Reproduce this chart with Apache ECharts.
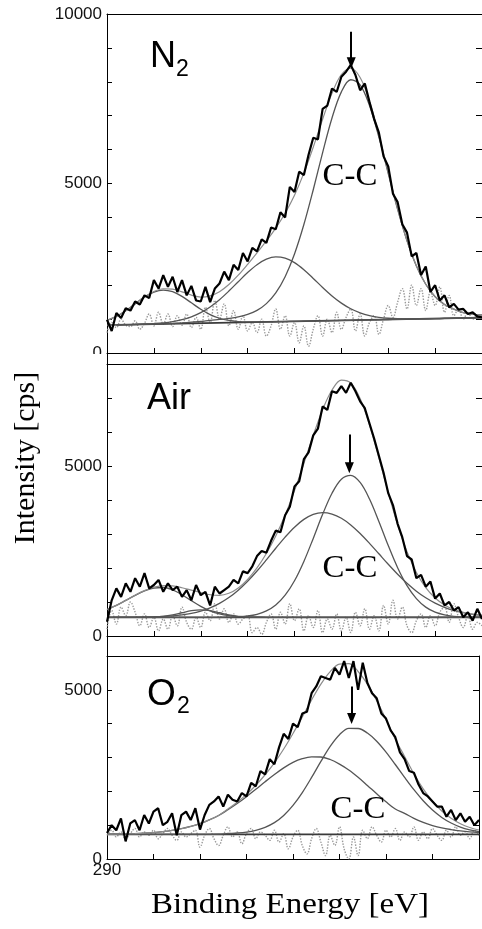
<!DOCTYPE html>
<html>
<head>
<meta charset="utf-8">
<script src="https://cdn.jsdelivr.net/npm/echarts/dist/echarts.min.js"></script>
<style>
html,body{margin:0;padding:0;background:#fff;}
#chart{width:482px;height:929px;}
</style>
</head>
<body>
<div id="chart"></div>
<script>
// Binding energies (eV)
const E_FIT = [290.0,289.8,289.6,289.4,289.2,289.0,288.8,288.6,288.4,288.2,288.0,287.8,287.6,287.4,287.2,287.0,286.8,286.6,286.4,286.2,286.0,285.8,285.6,285.4,285.2,285.0,284.8,284.6,284.4,284.2,284.0,283.8,283.6,283.4,283.2,283.0,282.8,282.6,282.4,282.2,282.0];
const E_RAW = [290.0,289.9,289.8,289.7,289.6,289.5,289.4,289.3,289.2,289.1,289.0,288.9,288.8,288.7,288.6,288.5,288.4,288.3,288.2,288.1,288.0,287.9,287.8,287.7,287.6,287.5,287.4,287.3,287.2,287.1,287.0,286.9,286.8,286.7,286.6,286.5,286.4,286.3,286.2,286.1,286.0,285.9,285.8,285.7,285.6,285.5,285.4,285.3,285.2,285.1,285.0,284.9,284.8,284.7,284.6,284.5,284.4,284.3,284.2,284.1,284.0,283.9,283.8,283.7,283.6,283.5,283.4,283.3,283.2,283.1,283.0,282.9,282.8,282.7,282.6,282.5,282.4,282.3,282.2,282.1,282.0];

// ---- N2 panel ----
const N2_RAW = [980,650,1180,1030,1320,1250,1520,1430,1700,1620,2150,1900,2300,1950,2250,1800,2150,1700,1980,1550,1520,1950,1500,1900,2050,2400,2150,2600,2450,2950,2700,3100,3000,3350,3250,3700,3650,4150,4000,4900,4750,5350,5250,5850,6350,6300,7200,7300,7800,7700,8150,8300,8500,8200,7750,7950,7400,6900,6500,5800,5500,4700,4450,3800,3550,2850,2950,2300,2550,1800,2000,1550,1700,1350,1450,1280,1300,1150,1200,1080,1050];
const N2_RESID = [600,900,750,1000,820,780,950,700,880,1150,800,1200,850,1150,780,1100,820,1150,750,1050,700,1350,900,1550,1000,1450,800,1250,700,1100,650,900,600,1000,500,800,1300,700,1100,500,900,300,800,200,700,1100,500,1000,600,1200,700,1050,1300,650,1150,500,900,1100,550,1000,1400,1050,1500,1900,1300,2000,1400,1900,1250,1800,1400,1950,1200,1700,1100,1300,1000,1200,1000,1100,1050];
const N2_ENV = [960,1079,1247,1451,1656,1815,1895,1882,1803,1709,1651,1687,1808,2019,2295,2615,2954,3307,3686,4123,4653,5306,6071,6895,7662,8215,8400,8126,7427,6439,5331,4254,3318,2573,2027,1661,1431,1295,1190,1145,1121];
const N2_PK1 = [960,1079,1247,1448,1648,1798,1857,1809,1669,1480,1290,1133,1025,961,928,917,915,917,922,927,933,938,944,949,954,960,965,971,976,981,987,992,998,1003,1008,1014,1019,1025,1030,1035,1041];
const N2_PK2 = [825,830,836,844,855,869,890,926,982,1067,1190,1358,1573,1827,2102,2373,2605,2768,2835,2799,2665,2455,2200,1933,1684,1472,1305,1185,1103,1052,1025,1011,1007,1007,1008,1014,1019,1025,1030,1035,1041];
const N2_CC = [825,830,836,841,847,852,862,873,888,908,929,964,990,1021,1065,1137,1256,1456,1773,2251,2921,3789,4815,5911,6932,7703,8060,7912,7300,6368,5293,4235,3309,2569,2027,1661,1431,1295,1190,1145,1121];
const N2_BASE_E = [289.8, 282.0];
const N2_BASE = [830, 1041];

// ---- Air panel ----
const AIR_RAW = [420,1050,1400,1150,1550,1300,1700,1450,1850,1400,1500,1650,1300,1550,1350,1450,1150,1350,1050,1500,1200,1300,900,1450,1250,1350,1450,1650,1550,1900,1850,2050,2350,2500,2450,2800,3100,3050,3550,3800,4400,4550,5200,5400,5900,6100,6750,6650,7200,7150,7350,7150,7450,7200,6900,6700,6250,5800,5300,4800,4200,3850,3300,2900,2350,2250,1700,1800,1450,1600,1100,1250,900,1000,750,850,550,700,450,800,500];
const AIR_RESID = [200,750,350,850,600,1000,700,300,650,250,550,150,500,200,600,300,850,400,200,550,250,700,450,950,500,800,400,650,350,500,600,100,250,50,400,650,200,700,350,950,450,800,150,600,250,750,100,500,200,650,150,550,100,700,300,800,200,600,150,900,350,1050,500,850,300,100,450,650,250,600,300,700,850,400,950,550,250,600,200,400,300];
const AIR_ENV = [778,901,1048,1200,1336,1434,1482,1472,1420,1350,1277,1213,1194,1256,1414,1667,2005,2427,2943,3559,4276,5075,5900,6658,7236,7526,7444,6982,6206,5238,4220,3275,2482,1868,1422,1117,915,782,697,643,608];
const AIR_PK1 = [778,900,1046,1196,1327,1410,1427,1357,1214,1039,873,740,650,597,570,558,553,550,550,550,550,550,550,550,550,550,550,550,550,550,550,550,550,550,550,550,550,550,550,550,550];
const AIR_PK2 = [550,550,550,550,552,560,580,622,684,744,770,744,684,622,580,560,552,550,550,550,550,550,550,550,550,550,550,550,550,550,550,550,550,550,550,550,550,550,550,550,550];
const AIR_PKW = [550,551,552,554,557,564,575,593,622,667,734,829,960,1131,1348,1610,1911,2240,2581,2909,3201,3431,3579,3630,3587,3464,3268,3016,2726,2418,2109,1816,1550,1318,1123,967,845,752,685,638,606];
const AIR_CC = [550,550,550,550,550,550,550,550,550,550,550,550,550,556,566,589,639,737,912,1200,1625,2194,2871,3578,4199,4612,4726,4516,4030,3370,2661,2009,1482,1100,849,700,620,580,562,555,552];
const AIR_BASE_E = [290.0, 282.0];
const AIR_BASE = [550, 550];

// ---- O2 panel ----
const O2_RAW = [770,1000,850,1200,520,1050,1150,850,1300,1050,1400,1500,1000,1100,1350,700,1300,1400,1150,1500,870,1300,1600,1700,1850,1550,1900,1750,1700,1950,1850,2250,2150,2600,2500,2950,2800,3300,3700,3550,4000,3900,4300,4350,4900,5100,5400,5350,5300,5650,5450,5850,5350,5850,5000,5800,5200,4900,4750,4300,4150,3800,3600,3150,2950,2600,2550,2200,1950,1850,1700,1550,1550,1250,1450,1150,1350,1100,1250,1000,1150];
const O2_RESID = [700,850,650,800,600,750,900,650,800,700,850,600,750,900,700,550,800,650,750,850,350,700,900,600,400,700,950,650,800,450,750,900,600,800,700,550,850,500,750,300,650,850,400,150,600,900,500,100,700,400,950,300,0,650,100,850,600,950,700,500,850,650,900,550,800,650,950,550,800,600,900,700,550,850,650,950,700,800,600,850,700];
const O2_ENV = [735,738,743,751,763,782,808,845,895,961,1047,1155,1288,1480,1680,1910,2180,2490,2840,3250,3710,4200,4700,5170,5540,5760,5775,5542,5168,4681,4123,3540,3032,2518,2072,1708,1419,1203,1044,932,858];
const O2_PKW = [735,738,743,751,763,782,808,845,895,961,1047,1155,1286,1458,1641,1843,2061,2283,2497,2694,2856,2966,3020,3015,2941,2805,2631,2415,2175,1929,1692,1477,1350,1200,1080,990,920,870,830,800,780];
const O2_CC = [730,730,730,730,730,730,730,730,730,730,730,730,732,753,769,797,849,937,1074,1287,1584,1964,2411,2886,3329,3673,3863,3857,3723,3482,3161,2793,2412,2048,1722,1448,1229,1063,944,862,808];
const O2_BASE_E = [290.0, 282.0];
const O2_BASE = [730, 730];

// Axis setup
const Y_MAX = [10000, 8000, 6000];
const Y_LABELS = [[0, 5000, 10000], [0, 5000], [0, 5000]];
const X_LABELS = [290];

// Arrow annotations [energy, start intensity, tip intensity]
const ARROW_E = [284.79, 284.83, 284.74];
const ARROW_TOP = [9480, 5930, 5100];
const ARROW_TIP = [8560, 4950, 4150];

const pairs = (xs, ys) => xs.map((x, i) => [x, ys[i]]);

const GRIDS = [
  {left: 107, top: 14, width: 376, height: 339},
  {left: 107, top: 364, width: 376, height: 272},
  {left: 107, top: 656, width: 376, height: 203}
];

const xAxis = [], yAxis = [];
GRIDS.forEach((g, k) => {
  xAxis.push({
    gridIndex: k, type: 'value', min: 282, max: 290, interval: 1, inverse: true, position: 'bottom',
    axisLine: {show: true, onZero: false, lineStyle: {color: '#000', width: 1}},
    axisTick: {show: true, inside: true, length: 5, lineStyle: {color: '#000'}},
    splitLine: {show: false},
    axisLabel: {show: k === 2, margin: 3, fontFamily: 'Liberation Sans', fontSize: 17, color: '#111',
      formatter: v => (X_LABELS.indexOf(v) >= 0 ? String(v) : '')}
  });
  xAxis.push({
    gridIndex: k, type: 'value', min: 282, max: 290, inverse: true, position: 'top',
    axisLine: {show: true, onZero: false, lineStyle: {color: '#000', width: 1}},
    axisTick: {show: false}, axisLabel: {show: false}, splitLine: {show: false}
  });
  yAxis.push({
    gridIndex: k, type: 'value', min: 0, max: Y_MAX[k], interval: 1000, position: 'left',
    axisLine: {show: true, onZero: false, lineStyle: {color: '#000', width: 1}},
    axisTick: {show: true, inside: true, length: 5, lineStyle: {color: '#000'}},
    splitLine: {show: false},
    axisLabel: {margin: 5, fontFamily: 'Liberation Sans', fontSize: 17, color: '#111',
      formatter: v => (Y_LABELS[k].indexOf(v) >= 0 ? String(v) : '')}
  });
  yAxis.push({
    gridIndex: k, type: 'value', min: 0, max: Y_MAX[k], interval: 1000, position: 'right',
    axisLine: {show: true, onZero: false, lineStyle: {color: '#000', width: 1}},
    axisTick: {show: true, inside: true, length: 6, lineStyle: {color: '#000'}},
    axisLabel: {show: false}, splitLine: {show: false}
  });
});

const series = [];
function line(k, xs, ys, color, width, opts) {
  series.push(Object.assign({
    type: 'line', xAxisIndex: 2 * k, yAxisIndex: 2 * k, data: pairs(xs, ys),
    symbol: 'none', showSymbol: false, silent: true, animation: false,
    lineStyle: {color: color, width: width}
  }, opts || {}));
}
const PANELS = [
  {raw: N2_RAW, resid: N2_RESID, env: N2_ENV, comps: [N2_PK1, N2_PK2, N2_CC], be: N2_BASE_E, b: N2_BASE},
  {raw: AIR_RAW, resid: AIR_RESID, env: AIR_ENV, comps: [AIR_PK1, AIR_PK2, AIR_PKW, AIR_CC], be: AIR_BASE_E, b: AIR_BASE},
  {raw: O2_RAW, resid: O2_RESID, env: O2_ENV, comps: [O2_PKW, O2_CC], be: O2_BASE_E, b: O2_BASE}
];
PANELS.forEach((p, k) => {
  line(k, E_RAW, p.resid, '#9a9a9a', 1.4, {smooth: 0.4, lineStyle: {color: '#9a9a9a', width: 1.4, type: 'dotted'}, z: 1});
  line(k, p.be, p.b, '#3a3a3a', 1.8, {z: 2});
  p.comps.forEach(c => line(k, E_FIT, c, '#555', 1.3, {smooth: 0.35, z: 3}));
  line(k, E_FIT, p.env, '#8c8c8c', 1.2, {smooth: 0.35, z: 4});
  line(k, E_RAW, p.raw, '#000', 2.2, {z: 5,
    markLine: {
      silent: true, animation: false, symbol: ['none', 'triangle'], symbolSize: [9, 11],
      label: {show: false}, lineStyle: {color: '#000', width: 2, type: 'solid'},
      emphasis: {disabled: true},
      data: [[{coord: [ARROW_E[k], ARROW_TOP[k]]}, {coord: [ARROW_E[k], ARROW_TIP[k]]}]]
    }
  });
});

const sans = 'Liberation Sans, Arial, sans-serif';
const serif = 'Liberation Serif, Times New Roman, serif';
const txt = (t, x, y, size, family, align, sx) => ({
  type: 'text', z: 100, silent: true, x: x, y: y, scaleX: sx || 1,
  style: {text: t, x: 0, y: 0, font: size + 'px ' + family, fill: '#000', textAlign: align || 'left', textVerticalAlign: 'middle'}
});

const graphic = [
  // continuous left axis through panel gaps
  {type: 'line', z: 50, silent: true, shape: {x1: 107.5, y1: 353, x2: 107.5, y2: 364}, style: {stroke: '#000', lineWidth: 1}},
  {type: 'line', z: 50, silent: true, shape: {x1: 107.5, y1: 636, x2: 107.5, y2: 656}, style: {stroke: '#000', lineWidth: 1}},
  // first panel's zero label is partly covered in the original
  {type: 'rect', z: 60, silent: true, shape: {x: 80, y: 354, width: 26, height: 9}, style: {fill: '#fff'}},
  txt('N', 150, 57, 36, sans),
  txt('2', 176, 70, 23, sans),
  txt('Air', 147, 399, 36, sans),
  txt('O', 147, 695, 37, sans),
  txt('2', 177, 707, 23, sans),
  txt('C-C', 350, 177, 31, serif, 'center', 1.06),
  txt('C-C', 350, 569, 31, serif, 'center', 1.06),
  txt('C-C', 358, 810, 31, serif, 'center', 1.06),
  txt('Binding Energy [eV]', 290, 905, 30, serif, 'center', 1.1),
  {type: 'text', z: 100, silent: true, x: 26, y: 458, rotation: Math.PI / 2,
   style: {text: 'Intensity [cps]', x: 0, y: 0, font: '30px ' + serif, fill: '#000', textAlign: 'center', textVerticalAlign: 'middle'}}
];

const chart = echarts.init(document.getElementById('chart'), null, {renderer: 'canvas'});
chart.setOption({
  animation: false,
  backgroundColor: '#fff',
  grid: GRIDS,
  xAxis: xAxis,
  yAxis: yAxis,
  series: series,
  graphic: graphic
});
</script>
</body>
</html>
